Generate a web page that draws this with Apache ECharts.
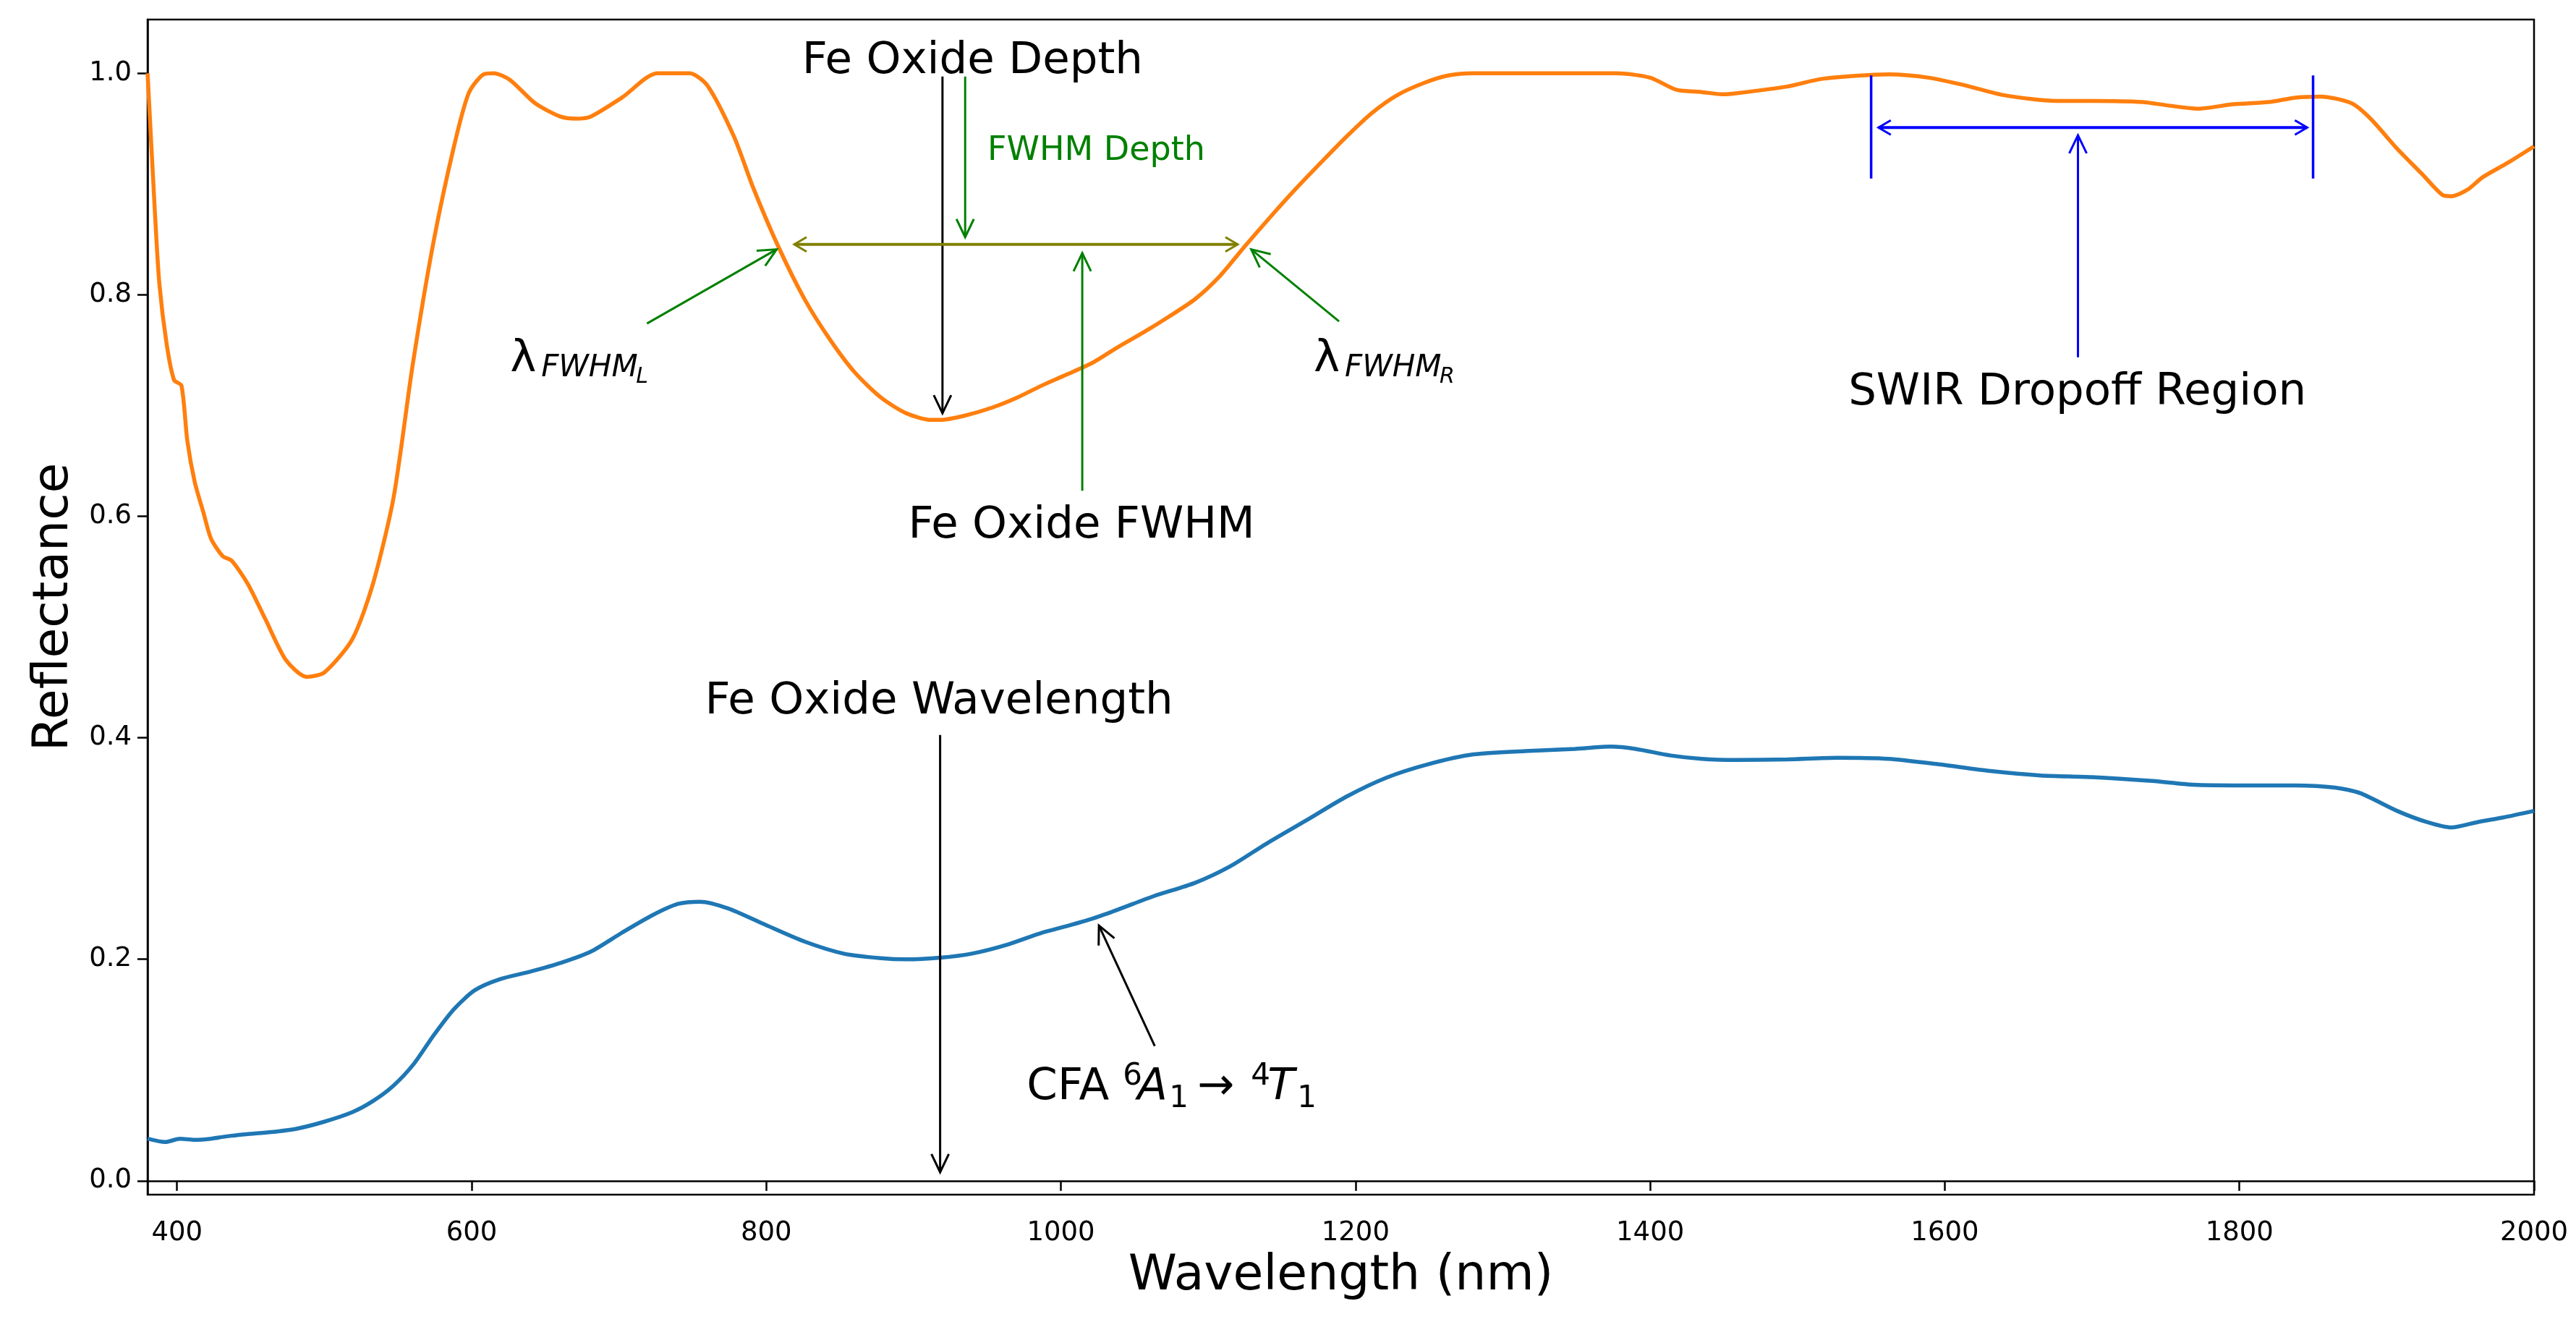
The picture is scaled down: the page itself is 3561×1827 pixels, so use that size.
<!DOCTYPE html>
<html><head><meta charset="utf-8">
<script src="https://cdn.jsdelivr.net/npm/echarts@6/dist/echarts.min.js"></script>
<style>html,body{margin:0;padding:0;background:#fff}#c{width:3561px;height:1827px}</style>
</head><body><div id="c"></div>
<script>
// ---------------- data ----------------
const orangeWl = [380,385,388,393,398,403,407,412,418,423,431,437,448,460,474,488,500,519,533,547,560,574,588,598,608,615,626,643,660,671,681,702,726,748,760,778,791,808,826,843,860,878,895,912,918,935,953,970,987,1004,1022,1039,1056,1073,1091,1108,1125,1142,1159,1177,1194,1211,1228,1246,1263,1280,1332,1377,1400,1418,1435,1449,1459,1493,1517,1562,1589,1614,1641,1676,1700,1734,1751,1772,1796,1820,1838,1855,1876,1889,1907,1924,1938,1944,1955,1965,1982,2000];
const orangeVal = [1.000,0.874,0.810,0.755,0.723,0.718,0.668,0.631,0.603,0.580,0.564,0.560,0.539,0.507,0.470,0.455,0.459,0.489,0.539,0.617,0.737,0.847,0.934,0.982,0.999,1.000,0.994,0.973,0.961,0.959,0.961,0.978,1.000,1.000,0.989,0.943,0.897,0.844,0.796,0.760,0.730,0.707,0.693,0.687,0.687,0.691,0.698,0.707,0.718,0.728,0.739,0.753,0.766,0.780,0.796,0.817,0.844,0.870,0.895,0.920,0.943,0.964,0.980,0.991,0.998,1.000,1.000,1.000,0.996,0.985,0.983,0.981,0.982,0.988,0.995,0.999,0.996,0.989,0.980,0.975,0.975,0.974,0.971,0.968,0.972,0.974,0.978,0.979,0.973,0.959,0.932,0.909,0.890,0.889,0.895,0.906,0.919,0.934];
const blueWl = [380,392,402,412,423,433,447,464,481,499,519,533,547,561,574,588,602,619,640,661,681,702,723,740,755,774,798,826,853,878,895,918,939,963,987,1004,1022,1039,1063,1091,1115,1139,1166,1194,1221,1249,1280,1315,1349,1373,1390,1414,1435,1459,1493,1527,1562,1596,1631,1665,1700,1741,1769,1803,1838,1865,1882,1907,1927,1944,1962,1979,2000];
const blueVal = [0.038,0.035,0.038,0.037,0.038,0.040,0.042,0.044,0.047,0.053,0.062,0.072,0.086,0.106,0.131,0.155,0.172,0.182,0.189,0.197,0.207,0.224,0.240,0.250,0.252,0.246,0.232,0.216,0.205,0.201,0.200,0.2015,0.205,0.213,0.224,0.230,0.237,0.245,0.257,0.269,0.284,0.304,0.325,0.347,0.364,0.376,0.385,0.388,0.390,0.392,0.390,0.384,0.381,0.380,0.3805,0.382,0.381,0.376,0.370,0.366,0.3645,0.361,0.3576,0.357,0.357,0.355,0.350,0.334,0.324,0.319,0.324,0.328,0.334];
const xTicks = [400,600,800,1000,1200,1400,1600,1800,2000];
const yTicks = [0.0,0.2,0.4,0.6,0.8,1.0];

// annotation arrows in data units [x1,y1,x2,y2]; the head sits at (x2,y2)
const arrowLines = [
  [919.6,0.997,919.6,0.693],
  [935,0.997,935,0.852],
  [819,0.8455,1120,0.8455],
  [719,0.774,807,0.841],
  [1188.8,0.776,1129.2,0.841],
  [1014.5,0.623,1014.5,0.8376],
  [918,0.4025,918,0.0078],
  [1063.7,0.1217,1025.8,0.2305],
  [1550,0.905,1550,0.998],
  [1850,0.905,1850,0.998],
  [1555,0.951,1846,0.951],
  [1690.4,0.7435,1690.4,0.944]
];
const arrowKinds = ['end','end','both','end','end','end','end','end','none','none','both','end'];
const arrowColorNames = ['black','green','olive','green','green','green','black','black','blue','blue','blue','blue'];

// plain annotation texts, anchored at (centre x, baseline y) in data units
const labelTexts = ['Fe Oxide Depth','FWHM Depth','Fe Oxide FWHM','Fe Oxide Wavelength','SWIR Dropoff Region'];
const labelAnchors = [[940,0.9985],[1024,0.9208],[1014,0.5790],[917.3,0.4205],[1690,0.6995]];
const labelColorNames = ['black','green','black','black','black'];

// math annotation texts, anchored at (left x, baseline y) in data units
const mathAnchors = [[626.1,0.7297],[1171.6,0.7297],[976.8,0.0721]];

// ---------------- styles / layout ----------------
const colorMap = {black:'#000000', green:'#008000', olive:'#808000', blue:'#0000ff'};
const FONT = 'DejaVu Sans';
const labelSizes = [61,46,61,61,61];
const arrowWidths = [3,3,4,3,3,3,3,3,3.5,3.5,4,3];
// pieces: [text, dx(px), baseline shift(px), size, style]
const mathPieces = [
  [['λ',0,0,61,'normal'],['FWHM',43,7,42,'italic'],['L',174,15,30,'italic']],
  [['λ',0,0,61,'normal'],['FWHM',43,7,42,'italic'],['R',174,15,30,'italic']],
  [['CFA',0,0,61,'normal'],['6',133,-21,42,'normal'],['A',153,0,61,'italic'],['1',197,10,42,'normal'],
   ['→',236,0,61,'normal'],['4',310,-21,42,'normal'],['T',333,0,61,'italic'],['1',374,10,42,'normal']]
];
const BASE = 0.30; // canvas 'middle' to alphabetic baseline, in em

const chart = echarts.init(document.getElementById('c'), null, {renderer:'canvas'});

function renderArrow(params, api){
  const i = params.dataIndex;
  const p1 = api.coord([api.value(0), api.value(1)]);
  const p2 = api.coord([api.value(2), api.value(3)]);
  const kind = arrowKinds[i];
  const color = colorMap[arrowColorNames[i]];
  const lw = arrowWidths[i];
  const children = [{type:'line', shape:{x1:p1[0],y1:p1[1],x2:p2[0],y2:p2[1]}, style:{stroke:color, lineWidth:lw}}];
  const big = kind === 'end';
  const L = big ? 25 : 17, W = big ? 12 : 10;
  function head(tip, from){
    const dx = tip[0]-from[0], dy = tip[1]-from[1];
    const len = Math.hypot(dx,dy); const ux = dx/len, uy = dy/len;
    const bx = tip[0]-ux*L, by = tip[1]-uy*L; const nx = -uy, ny = ux;
    return {type:'polyline', shape:{points:[[bx+nx*W,by+ny*W],[tip[0],tip[1]],[bx-nx*W,by-ny*W]]},
            style:{stroke:color, lineWidth:3, fill:'none'}};
  }
  if (kind === 'end' || kind === 'both') children.push(head(p2,p1));
  if (kind === 'both') children.push(head(p1,p2));
  return {type:'group', children};
}

function renderLabel(params, api){
  const i = params.dataIndex;
  const p = api.coord([api.value(0), api.value(1)]);
  const s = labelSizes[i];
  return {type:'text', x:p[0], y:p[1]-BASE*s,
    style:{text:labelTexts[i], fontSize:s, fontFamily:FONT, fill:colorMap[labelColorNames[i]], align:'center', verticalAlign:'middle'}};
}

function renderMath(params, api){
  const i = params.dataIndex;
  const p = api.coord([api.value(0), api.value(1)]);
  const children = mathPieces[i].map(pc => ({type:'text', x:p[0]+pc[1], y:p[1]+pc[2]-BASE*pc[3],
    style:{text:pc[0], fontSize:pc[3], fontStyle:pc[4], fontFamily:FONT, fill:'#000', align:'left', verticalAlign:'middle'}}));
  return {type:'group', children};
}

const option = {
  animation:false,
  backgroundColor:'#ffffff',
  grid:{left:204, right:58, top:27, bottom:176, show:true, borderColor:'#000', borderWidth:2.5, backgroundColor:'transparent'},
  xAxis:{type:'value', min:380, max:2000,
    name:'Wavelength (nm)', nameLocation:'middle', nameGap:79,
    nameTextStyle:{fontSize:68, color:'#000', fontFamily:FONT},
    axisLine:{show:true, lineStyle:{color:'#000', width:2.5}},
    axisTick:{show:true, customValues:xTicks, length:14, inside:false, lineStyle:{color:'#000', width:2.5}},
    axisLabel:{customValues:xTicks, fontSize:37, color:'#000', fontFamily:FONT, margin:35, formatter:v=>String(v)},
    splitLine:{show:false}},
  yAxis:{type:'value', min:-0.0125, max:1.0485,
    name:'Reflectance', nameLocation:'middle', nameGap:95, nameRotate:90,
    nameTextStyle:{fontSize:68, color:'#000', fontFamily:FONT},
    axisLine:{show:true, lineStyle:{color:'#000', width:2.5}},
    axisTick:{show:true, customValues:yTicks, length:14, inside:false, lineStyle:{color:'#000', width:2.5}},
    axisLabel:{customValues:yTicks, fontSize:37, color:'#000', fontFamily:FONT, margin:22, formatter:v=>v.toFixed(1)},
    splitLine:{show:false}},
  series:[
    {type:'line', name:'blue', data:blueWl.map((w,i)=>[w,blueVal[i]]), showSymbol:false, symbol:'none',
     smooth:0.25, lineStyle:{color:'#1f77b4', width:5.5}, z:2},
    {type:'line', name:'orange', data:orangeWl.map((w,i)=>[w,orangeVal[i]]), showSymbol:false, symbol:'none',
     smooth:0.25, lineStyle:{color:'#ff7f0e', width:5.5}, z:2},
    {type:'custom', name:'arrows', data:arrowLines, encode:{x:[0,2], y:[1,3]}, renderItem:renderArrow, clip:false, silent:true, z:5},
    {type:'custom', name:'labels', data:labelAnchors, encode:{x:0, y:1}, renderItem:renderLabel, clip:false, silent:true, z:6},
    {type:'custom', name:'math', data:mathAnchors, encode:{x:0, y:1}, renderItem:renderMath, clip:false, silent:true, z:6}
  ]
};
chart.setOption(option);
</script>
</body></html>
